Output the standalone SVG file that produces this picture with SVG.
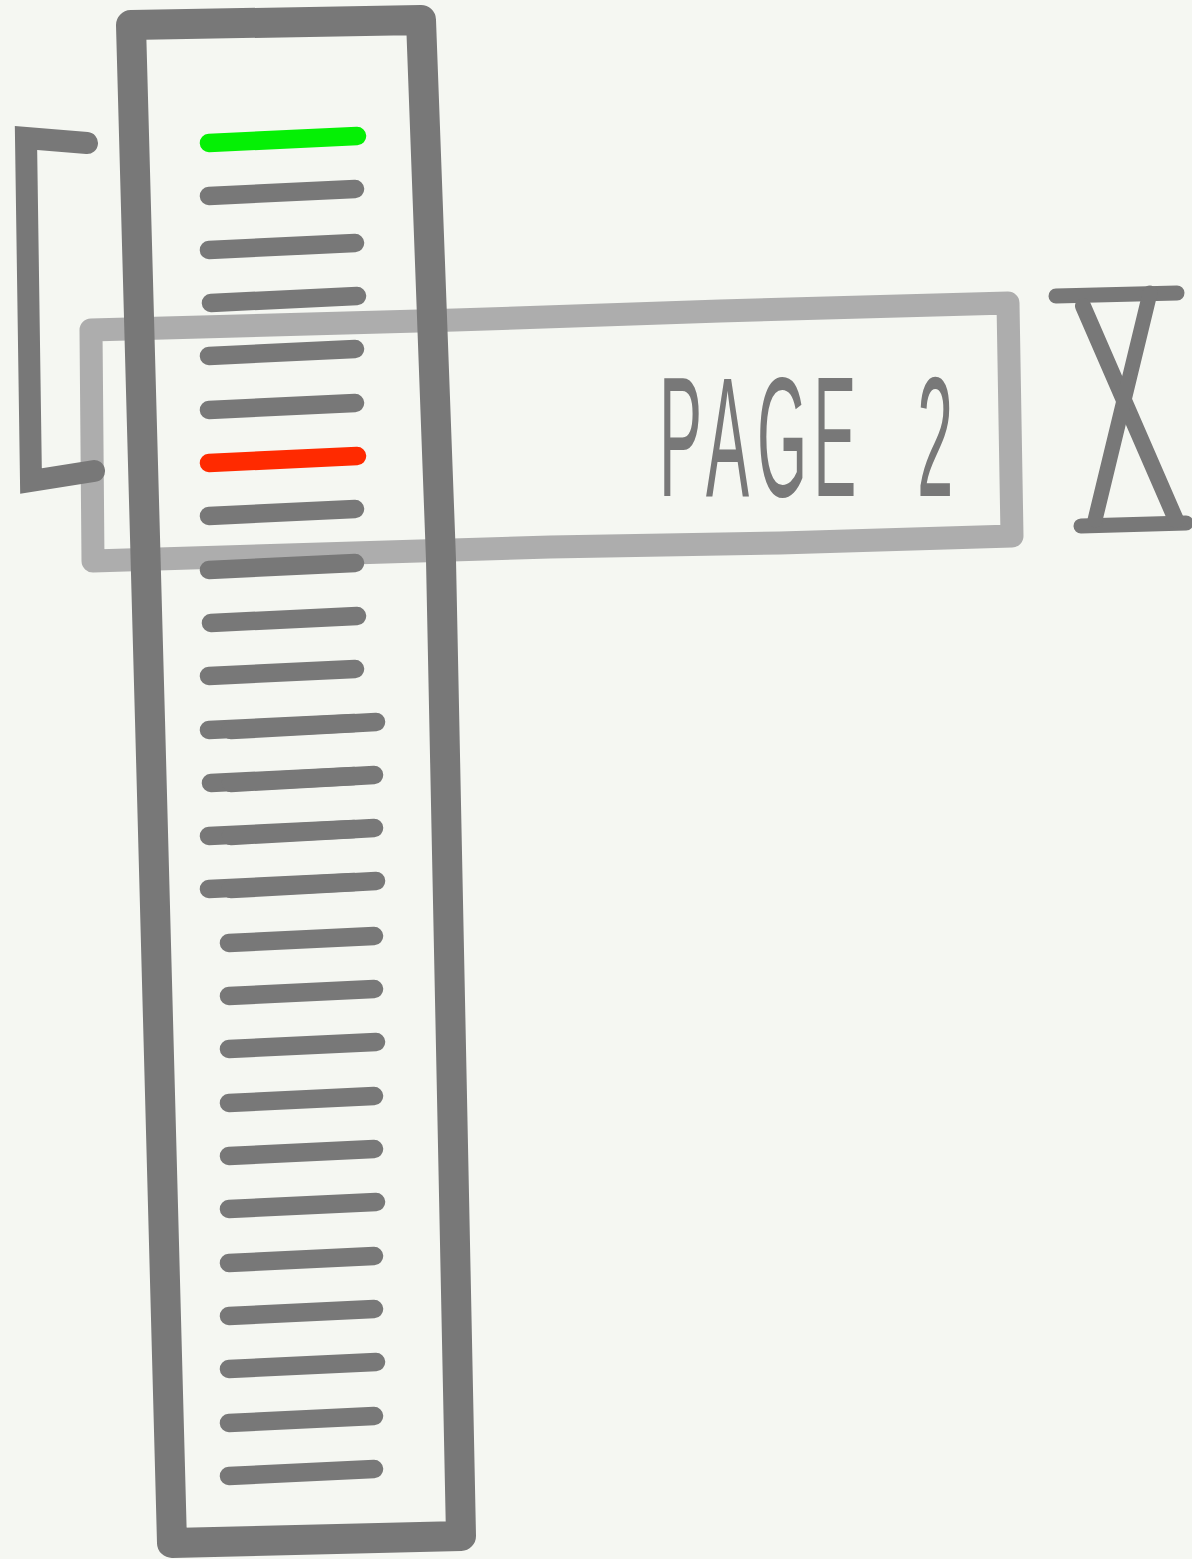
<svg xmlns="http://www.w3.org/2000/svg" width="1192" height="1559" viewBox="0 0 1192 1559">
<style>
.dk{fill:none;stroke:#787878;stroke-linecap:round;stroke-linejoin:round}
.ln{fill:none;stroke:#787878;stroke-width:18.5;stroke-linecap:round}
.lt{fill:none;stroke:#adadad;stroke-width:23;stroke-linecap:round;stroke-linejoin:round}
.lbl{font-family:"Liberation Sans Narrow","Liberation Sans",Arial,sans-serif;font-size:170px;fill:#787878}
</style>
<rect x="0" y="0" width="1192" height="1559" fill="#f5f7f2"/>
<g id="page2-tab">
<path class="lt" d="M91,330 L455,320 L720,311 L1008,303 L1012,536 L780,543 L550,547 L93,561 Z"/>
<text class="lbl" transform="scale(0.38,1)" x="1734 1858 1992 2140 2300 2414" y="496">PAGE 2</text>
</g>
<g id="bracket">
<path class="dk" style="stroke-width:22;stroke-linejoin:miter" d="M87,143 L26,138 L31,481 L94,471"/>
</g>
<g id="page-column">
<path class="dk" style="stroke-width:30" d="M131,25 L421,20 L441,560 L461,1536 L172,1543 L150,720 Z"/>
</g>
<g id="lines">
<path class="ln" style="stroke:#05f005" d="M209,143 L357,136"/>
<path class="ln" d="M209,196 L355,189"/>
<path class="ln" d="M209,250 L355,243"/>
<path class="ln" d="M211,303 L357,296"/>
<path class="ln" d="M209,356 L355,349"/>
<path class="ln" d="M209,410 L355,403"/>
<path class="ln" style="stroke:#ff2a00" d="M209,463 L357,456"/>
<path class="ln" d="M209,516 L355,509"/>
<path class="ln" d="M209,570 L355,563"/>
<path class="ln" d="M211,623 L357,616"/>
<path class="ln" d="M209,676 L355,669"/>
<path class="ln" d="M209,730 L354,723"/><path class="ln" d="M231,730 L376,722"/>
<path class="ln" d="M211,783 L354,776"/><path class="ln" d="M231,783 L374,775"/>
<path class="ln" d="M209,836 L354,829"/><path class="ln" d="M231,836 L374,828"/>
<path class="ln" d="M209,889 L354,882"/><path class="ln" d="M231,889 L376,881"/>
<path class="ln" d="M229,943 L374,936"/>
<path class="ln" d="M229,996 L374,989"/>
<path class="ln" d="M229,1049 L376,1042"/>
<path class="ln" d="M229,1103 L374,1096"/>
<path class="ln" d="M229,1156 L374,1149"/>
<path class="ln" d="M229,1209 L376,1202"/>
<path class="ln" d="M229,1263 L374,1256"/>
<path class="ln" d="M229,1316 L374,1309"/>
<path class="ln" d="M229,1369 L376,1362"/>
<path class="ln" d="M229,1423 L374,1416"/>
<path class="ln" d="M229,1476 L374,1469"/>
</g>
<g id="hourglass">
<path class="dk" style="stroke-width:15" d="M1056,296 L1177,293"/>
<path class="dk" style="stroke-width:15" d="M1081,526 L1186,523"/>
<path class="dk" style="stroke-width:16" d="M1083,306 L1176,520"/>
<path class="dk" style="stroke-width:15" d="M1150,293 L1095,520"/>
</g>
</svg>
